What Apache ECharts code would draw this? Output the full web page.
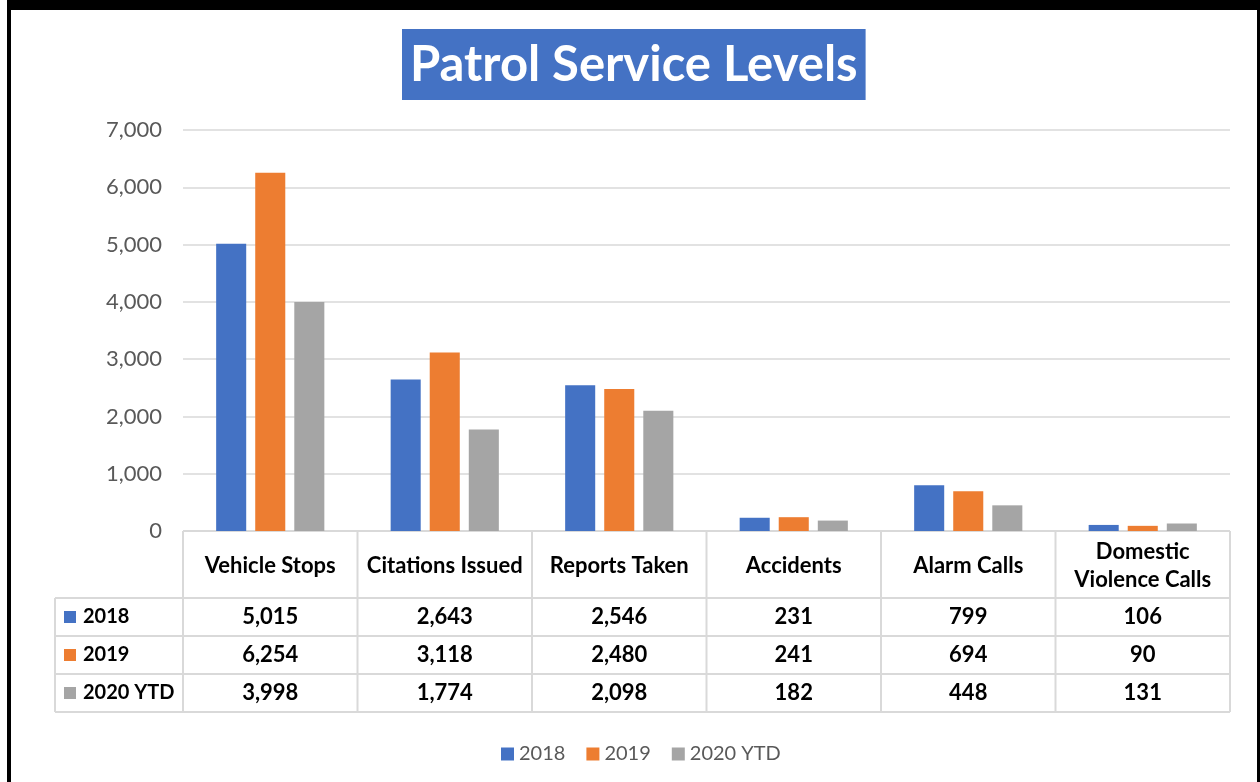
<!DOCTYPE html>
<html>
<head>
<meta charset="utf-8">
<script src="https://cdn.jsdelivr.net/npm/echarts@6/dist/echarts.min.js"></script>
<style>
  html, body { margin: 0; padding: 0; background: #fff; }
  #chart { width: 1260px; height: 782px; }
</style>
</head>
<body>
<div id="chart"></div>
<script>
// Patrol activity counts by category and year
const categories = ['Vehicle Stops', 'Citations Issued', 'Reports Taken', 'Accidents', 'Alarm Calls', 'Domestic Violence Calls'];
const seriesNames = ['2018', '2019', '2020 YTD'];
const values2018 = [5015, 2643, 2546, 231, 799, 106];
const values2019 = [6254, 3118, 2480, 241, 694, 90];
const values2020 = [3998, 1774, 2098, 182, 448, 131];
const yMax = 7000;
const yStep = 1000;

const seriesValues = [values2018, values2019, values2020];
const colors = ['#4472C4', '#ED7D31', '#A5A5A5'];
const FONT = 'Lato, "Open Sans", sans-serif';
const GRID = { left: 183, right: 30, top: 130, bottom: 251 };
const LINE = '#d9d9d9';

const chart = echarts.init(document.getElementById('chart'), null, { renderer: 'canvas' });

const fmt = v => v.toLocaleString('en-US');
const wrapName = name => name.length > 18 ? name.replace(' ', '\n') : name;

chart.setOption({
  animation: false,
  backgroundColor: '#ffffff',
  title: {
    text: 'Patrol Service Levels',
    left: 402,
    top: 29,
    backgroundColor: '#4472C4',
    padding: [6, 8, 5, 8],
    textStyle: { color: '#ffffff', fontFamily: FONT, fontWeight: 'bold', fontSize: 49, lineHeight: 60 }
  },
  legend: {
    data: seriesNames,
    left: 496,
    top: 739,
    icon: 'rect',
    itemWidth: 13,
    itemHeight: 13,
    itemGap: 21,
    textStyle: { color: '#595959', fontFamily: FONT, fontSize: 20 }
  },
  grid: GRID,
  xAxis: {
    type: 'category',
    data: categories,
    axisLine: { show: false },
    axisTick: { show: false },
    axisLabel: { show: false }
  },
  yAxis: {
    type: 'value',
    min: 0,
    max: yMax,
    interval: yStep,
    axisLine: { show: false },
    axisTick: { show: false },
    axisLabel: {
      margin: 21,
      color: '#595959',
      fontFamily: FONT,
      fontSize: 22,
      formatter: v => fmt(v)
    },
    splitLine: { lineStyle: { color: LINE, width: 1.5 } }
  },
  series: seriesNames.map((name, i) => ({
    name,
    type: 'bar',
    data: seriesValues[i],
    itemStyle: { color: colors[i] },
    barGap: '30%',
    barCategoryGap: '38%',
    emphasis: { disabled: true }
  }))
});

// Data table under the axis, aligned to the category bands
function drawTable() {
  const c0 = chart.convertToPixel({ xAxisIndex: 0 }, 0);
  const c1 = chart.convertToPixel({ xAxisIndex: 0 }, 1);
  const band = c1 - c0;
  const axisY = chart.convertToPixel({ yAxisIndex: 0 }, 0);
  const leftX = GRID.left;
  const rightX = c0 - band / 2 + band * categories.length;
  const tableLeft = 55;
  const headerBottom = axisY + 67;
  const rowH = 38;
  const tableBottom = headerBottom + rowH * seriesNames.length;
  const els = [];
  const line = (x1, y1, x2, y2) => els.push({
    type: 'line', shape: { x1, y1, x2, y2 }, style: { stroke: LINE, lineWidth: 2 }, silent: true
  });
  const text = (x, y, t, opts) => els.push({
    type: 'text', x, y, silent: true,
    style: Object.assign({
      text: t, fill: '#000000', font: 'bold 22px ' + FONT,
      align: 'center', verticalAlign: 'middle', textAlign: 'center', textVerticalAlign: 'middle',
      lineHeight: 28
    }, opts || {})
  });

  // horizontal rules
  line(leftX, axisY, rightX, axisY);
  for (let r = 0; r <= seriesNames.length; r++) {
    const y = headerBottom + r * rowH;
    line(tableLeft, y, rightX, y);
  }
  // vertical rules
  line(tableLeft, headerBottom, tableLeft, tableBottom);
  for (let k = 0; k <= categories.length; k++) {
    const x = leftX + k * band;
    line(x, axisY, x, tableBottom);
  }
  // column headers
  categories.forEach((name, k) => {
    const cx = chart.convertToPixel({ xAxisIndex: 0 }, k);
    text(cx, (axisY + headerBottom) / 2 + 1, wrapName(name));
  });
  // rows
  seriesNames.forEach((name, r) => {
    const cy = headerBottom + r * rowH + rowH / 2;
    els.push({
      type: 'rect', silent: true,
      shape: { x: 64, y: cy - 6, width: 12, height: 12 },
      style: { fill: colors[r] }
    });
    text(83, cy, name, { align: 'left', textAlign: 'left', font: 'bold 20px ' + FONT });
    seriesValues[r].forEach((v, k) => {
      const cx = chart.convertToPixel({ xAxisIndex: 0 }, k);
      text(cx, cy, fmt(v));
    });
  });

  // outer frame
  els.push({ type: 'rect', silent: true, shape: { x: 7, y: 0, width: 1253, height: 10 }, style: { fill: '#000' } });
  els.push({ type: 'rect', silent: true, shape: { x: 7, y: 0, width: 4, height: 782 }, style: { fill: '#000' } });
  els.push({ type: 'rect', silent: true, shape: { x: 1257, y: 0, width: 3, height: 782 }, style: { fill: '#000' } });

  chart.setOption({ graphic: { elements: els } });
}
drawTable();
</script>
</body>
</html>
